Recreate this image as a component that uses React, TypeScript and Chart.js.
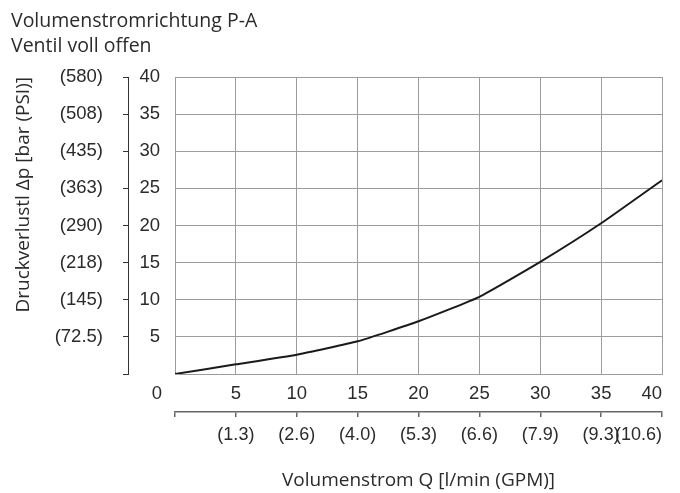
import React, { useEffect, useRef } from 'react';
import { Chart, registerables } from 'chart.js';

Chart.register(...registerables);

// ---- data ----
const flowLpm = [0, 5, 10, 15, 20, 25, 30, 35, 40];
const pressureBar = [0, 1.3, 2.6, 4.4, 7.1, 10.4, 15.1, 20.3, 26.1];
const psiLabels = ['', '(72.5)', '(145)', '(218)', '(290)', '(363)', '(435)', '(508)', '(580)'];
const gpmLabels = ['', '(1.3)', '(2.6)', '(4.0)', '(5.3)', '(6.6)', '(7.9)', '(9.3)', '(10.6)'];
const titleLines = ['Volumenstromrichtung P-A', 'Ventil voll offen'];
const yTitle = 'Druckverlustl Δp [bar (PSI)]';
const xTitle = 'Volumenstrom Q [l/min (GPM)]';
const originLabel = '0';

const TICK_FAMILY = '"Liberation Sans", Arial, sans-serif';
const TEXT_FAMILY = '"Open Sans", "Noto Sans", sans-serif';
const TICK_SIZE = 18.5;
const TEXT_COLOR = '#2b2b2b';
const GRID_COLOR = '#9c9c9c';
const X_TICK_PAD = 9;

const originPlugin = {
  id: 'originLabel',
  afterDraw(chart: any) {
    const xs = chart.scales.x;
    const ctx = chart.ctx;
    ctx.save();
    ctx.font = `${TICK_SIZE}px ${TICK_FAMILY}`;
    ctx.fillStyle = TEXT_COLOR;
    ctx.textAlign = 'center';
    ctx.textBaseline = 'middle';
    ctx.fillText(originLabel, chart.chartArea.left - 18, xs.top + X_TICK_PAD + (TICK_SIZE * 1.2) / 2);
    ctx.restore();
  },
};

export default function App() {
  const canvasRef = useRef<HTMLCanvasElement | null>(null);

  useEffect(() => {
    const prevMargin = document.body.style.margin;
    document.body.style.margin = '0';
    const canvas = canvasRef.current;
    if (!canvas) return;
    const tickFont = { family: TICK_FAMILY, size: TICK_SIZE, lineHeight: 1.2 };
    const chart = new Chart(canvas, {
      type: 'line',
      data: {
        datasets: [
          {
            data: flowLpm.map((x, i) => ({ x, y: pressureBar[i] })),
            borderColor: '#1a1a1a',
            borderWidth: 2,
            pointRadius: 0,
            tension: 0.15,
            xAxisID: 'x',
            yAxisID: 'y',
          },
        ],
      },
      options: {
        animation: false,
        responsive: true,
        maintainAspectRatio: false,
        layout: { padding: { left: 11, right: 18, top: 0, bottom: 0 } },
        plugins: {
          legend: { display: false },
          tooltip: { enabled: false },
          title: {
            display: true,
            text: titleLines,
            align: 'start',
            color: TEXT_COLOR,
            font: { family: TEXT_FAMILY, size: 19.5, weight: 'normal', lineHeight: 25 / 19.5 },
            padding: { top: 9, bottom: 18 },
          },
        },
        scales: {
          x: {
            type: 'linear',
            position: 'bottom',
            weight: 0,
            min: 0,
            max: 40,
            ticks: {
              stepSize: 5,
              align: 'inner',
              padding: X_TICK_PAD,
              color: TEXT_COLOR,
              font: tickFont,
              maxRotation: 0,
              callback: (v: any) => (v === 0 ? '' : String(v)),
            },
            grid: { color: GRID_COLOR, drawTicks: false, lineWidth: 1 },
            border: { display: true, color: GRID_COLOR },
            afterFit: (s: any) => {
              s.height = 38;
            },
          },
          xg: {
            type: 'linear',
            position: 'bottom',
            weight: 1,
            min: 0,
            max: 40,
            ticks: {
              stepSize: 5,
              align: 'inner',
              padding: 7,
              color: TEXT_COLOR,
              font: { family: TICK_FAMILY, size: 18, lineHeight: 1.2 },
              maxRotation: 0,
              callback: (_v: any, i: number) => gpmLabels[i],
            },
            grid: { drawOnChartArea: false, drawTicks: true, tickLength: 5, color: '#666', lineWidth: 1.5 },
            border: { display: true, color: '#666', width: 1.5 },
            title: {
              display: true,
              text: xTitle,
              color: TEXT_COLOR,
              font: { family: TEXT_FAMILY, size: 19, lineHeight: 1.2 },
              padding: { top: 0, bottom: 1 },
            },
            afterFit: (s: any) => {
              s.height = 81;
            },
          },
          y: {
            type: 'linear',
            position: 'left',
            weight: 0,
            min: 0,
            max: 40,
            ticks: {
              stepSize: 5,
              padding: 15,
              color: TEXT_COLOR,
              font: tickFont,
              callback: (v: any) => (v === 0 ? '' : String(v)),
            },
            grid: { color: GRID_COLOR, drawTicks: false, lineWidth: 1 },
            border: { display: true, color: GRID_COLOR },
            afterFit: (s: any) => {
              s.width = 47;
            },
          },
          yp: {
            type: 'linear',
            position: 'left',
            weight: 1,
            min: 0,
            max: 40,
            ticks: {
              stepSize: 5,
              padding: 20,
              color: TEXT_COLOR,
              font: tickFont,
              callback: (_v: any, i: number) => psiLabels[i],
            },
            grid: { drawOnChartArea: false, drawTicks: true, tickLength: 5, color: '#333', lineWidth: 1 },
            border: { display: true, color: '#333', width: 1 },
            title: {
              display: true,
              text: yTitle,
              align: 'end',
              color: TEXT_COLOR,
              font: { family: TEXT_FAMILY, size: 19, lineHeight: 1.2 },
              padding: { top: 1, bottom: 0 },
            },
            afterFit: (s: any) => {
              s.width = 117;
            },
          },
        },
      } as any,
      plugins: [originPlugin],
    });
    return () => {
      chart.destroy();
      document.body.style.margin = prevMargin;
    };
  }, []);

  return (
    <div style={{ position: 'relative', width: 680, height: 493 }}>
      <canvas ref={canvasRef} />
    </div>
  );
}
